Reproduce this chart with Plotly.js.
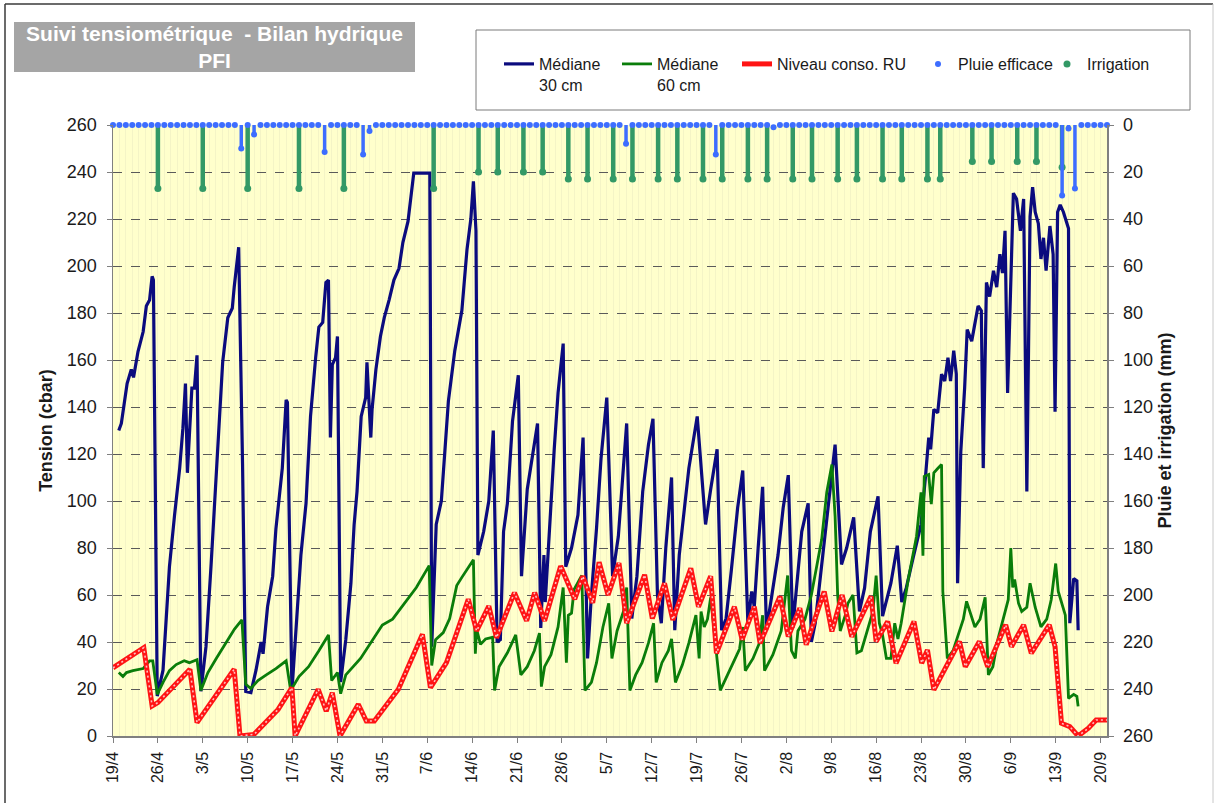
<!DOCTYPE html>
<html><head><meta charset="utf-8">
<script src="https://cdn.plot.ly/plotly-3.0.1.min.js"></script>
<style>html,body{margin:0;padding:0;background:#fff;}#chart{width:1224px;height:803px;}</style>
</head><body><div id="chart"></div>
<script>
// ---- Data (x = days since 19/4) ----
const xTickDays = [0,7,14,21,28,35,42,49,56,63,70,77,84,91,98,105,112,119,126,133,140,147,154];
const xTickLabels = ['19/4','26/4','3/5','10/5','17/5','24/5','31/5','7/6','14/6','21/6','28/6','5/7','12/7','19/7','26/7','2/8','9/8','16/8','23/8','30/8','6/9','13/9','20/9'];

const tension30Days = [0.9,1.3,2.2,2.85,3.2,3.9,4.7,5.2,5.7,6.1,6.3,6.9,7.8,8.8,9.6,10.4,10.9,11.3,11.6,12.0,
12.3,12.7,13.1,13.7,14.5,15.3,16.1,16.6,17.1,17.9,18.6,18.9,19.6,20.2,20.7,21.5,22.3,23.1,23.4,24.1,
24.9,25.4,25.9,26.4,27.0,27.2,27.9,28.5,29.3,30.1,30.8,31.6,32.1,32.7,33.2,33.6,33.9,34.2,34.7,35.0,
35.5,36.3,37.1,37.6,38.05,38.7,39.4,39.6,40.2,40.4,41.0,41.7,42.3,43.05,43.8,44.6,45.2,46.0,46.5,46.9,
49.4,49.7,50.4,51.2,52.3,53.3,54.4,55.2,55.8,56.2,56.6,56.9,57.8,58.6,59.3,59.9,60.4,60.9,61.5,62.3,
63.2,63.7,64.6,65.4,66.2,66.7,67.2,67.4,68.05,68.8,69.4,70.2,70.6,71.5,72.5,73.3,74.0,74.6,75.4,76.1,
77.0,77.9,78.8,79.6,80.1,80.9,81.7,82.6,83.5,84.2,84.9,85.5,86.2,87.1,87.6,88.3,89.0,89.8,91.1,92.4,
93.2,94.2,94.9,95.6,96.4,97.4,98.2,99.0,99.6,100.0,100.6,101.3,101.9,102.7,103.7,104.5,105.3,106.0,106.6,107.4,
108.4,108.9,109.5,110.5,111.8,112.6,113.6,114.4,115.5,116.4,117.2,118.1,119.3,120.0,121.3,122.3,123.0,123.7,124.7,126.0,
126.7,127.2,127.5,128.0,128.6,129.2,129.7,130.2,130.6,131.1,131.5,131.7,132.2,132.8,133.2,133.9,134.3,134.9,135.4,135.7,
136.2,136.7,137.3,137.8,138.3,138.7,139.1,139.5,140.4,140.9,141.5,142.0,142.5,143.0,143.4,143.8,144.3,144.7,145.1,145.5,
146.1,146.6,146.9,147.3,147.7,148.2,149.0,149.2,149.8,150.3,150.5];
const tension30 = [130,133,150,156,152.6,163.6,172,183,185.5,195.6,194,17,28,72,94,114,131,150,112,136,
148,148,162,19,38,73,110,134,159,178,182,191,208,116,19,18.5,28,40,35,55,
68,88,102,114,143,142,19,43,77,99,136,161,174,176,193,194,127,158,161,170,
23,41,65,90,104,136,144,159,127,139,156,170,178,185.5,194,199,210,219,230,239.5,
239.5,38,90,100,142.5,164,181,207,220,236,215,77,87,100,130,40,41,87,99,134,
153.5,68,105,119,133,46,77,57,90,122,146,167,72,80,94,127,33,60,88.5,118,
144,68,85,115.5,133,50,68,104,124,135,60,48,80,110,45,77,94,114,136,90,
105,122,45,50,70,97,113,48,61.5,55,80,106,45,60,77,97,111,46,63,87,
99,40,48,73,104,124,73,80,93,53,63,87,102,51,65,81,57,63,75,90,
110.5,127,122,139,137.5,154,151,161,151,164,154,65,121,148,173,168,174,183,181,114,
193,187,198,191,205,197,215,146,231,228.5,215,228.5,104,221,233.6,223,218,203,212,198,
217,205,138,223,226,223,216,48,67,66,45];

const tension60Days = [0.9,1.55,2.1,3.1,4.7,5.7,6.2,6.9,7.8,8.8,9.85,11.1,11.9,13.1,13.7,14.8,16.1,17.6,18.95,20.1,
20.7,21.5,22.6,23.9,25.4,27.0,27.7,29.0,30.5,32.1,33.6,34.1,35.0,35.5,36.3,38.6,40.2,42.0,43.6,45.2,
47.3,49.3,49.7,50.3,51.5,52.5,53.6,54.4,55.4,56.2,56.5,56.7,57.3,58.1,59.2,59.5,60.2,61.5,62.8,63.6,
64.6,65.7,66.5,66.8,67.3,68.3,69.4,70.2,70.7,71.0,71.5,71.9,73.1,73.6,74.6,75.4,76.4,77.3,77.8,78.6,
79.6,80.1,80.6,81.5,82.5,83.5,84.3,84.7,85.6,86.6,87.1,87.7,88.8,89.8,90.9,91.4,91.7,92.2,92.7,93.2,
94.7,95.6,96.6,97.7,98.2,98.6,99.8,100.8,101.3,101.6,102.9,104.2,105.2,105.8,106.4,106.8,107.9,108.4,108.9,110.5,
111.3,112.1,112.6,113.0,113.4,114.2,114.6,115.4,116.0,116.7,117.4,118.5,119.0,119.5,120.0,120.6,121.3,121.9,122.4,122.9,
124.0,125.3,126.0,126.3,126.5,127.2,127.6,128.0,128.6,129.2,129.4,130.1,131.0,131.8,132.6,133.1,133.6,134.4,135.2,136.0,
136.5,137.2,138.0,139.1,139.6,140.0,140.3,140.6,141.2,141.7,142.5,143.0,143.8,144.7,145.6,146.3,147.0,147.4,147.9,148.5,
149.0,149.8,150.3,150.5];
const tension60 = [27,25.3,27,27.8,28.7,32,32,17.7,22.8,27.8,30.4,32,31.2,32.5,19.4,27,33,39.6,45.5,49.4,
22,20.2,23.6,26,28.7,32,19.4,25.3,29.5,36.3,43,23.6,27,18,26,33,39.6,47.2,49.7,55.6,
63.2,72.5,30,41,44,50,64,67.5,71.7,75,35,45.5,39,41.3,42,19.4,29.5,35.4,43,26,
29.5,36.3,43.8,21,29.5,34.6,46.4,63.2,31.2,51.4,52.3,62.4,68.3,19.4,22.8,31.2,46.4,56.5,33,44.7,
53,63.2,19.4,26,31.2,39.6,48,22.8,31.2,36.3,41.3,22.8,30.4,39.6,51.4,33,53,46.4,49.7,59,
19.4,24.5,30.4,37,46.4,27.8,33,39.6,51.4,27.8,34.6,44.7,68.3,36.3,33,44.7,49.7,54.8,60,83.5,
103.7,115.5,93.6,60,44.7,51.4,56.5,60,35.4,36.3,43,53,68.3,48,43,33,33,48,41.3,48,
66.6,85,103.7,76.7,110.5,111.3,98.7,112,113.8,115.5,61.5,33,36.3,43,49.7,57.3,53,46.4,49.7,59,
26,29.5,41.3,53,58,80,63.2,66.6,56.5,53,54.8,65,54.8,46.4,49.7,58,73.4,61.5,57.3,51.4,
16,17.7,16.9,12.6];

const ruDays = [0,4.8,6.1,7,12,13.1,18.9,19.8,22,25.75,27.9,28.4,32,33.25,34.2,35.4,38.25,39.5,40.75,44.5,
48.25,49.5,52,55.4,56.7,58.6,59.8,62.6,64.5,65.75,67.3,69.8,72,73.25,74.8,75.8,77.2,78.9,80.1,82.9,
84.1,86,87.3,90.1,91.3,93.2,94.1,96.9,98.1,100,100.9,104,105.3,107.1,108.1,110.9,112.1,113.7,115.2,118.2,
119,120.8,122.1,124.9,126.1,127,128,132,132.9,135.1,136.4,139.2,140.1,142,143.2,146,146.9,147.9,149.2,150.5,
152.1,153.3,155];
const ruLevel = [29,37.6,12.8,14.2,28.4,5.7,28.4,0,0.7,11.3,20.6,0,19.9,10.6,18.4,0,13.5,6.4,6.4,19.9,
43.3,20.6,31.2,58.2,44.7,55.3,41.8,61,49,61,49,72.3,58.2,68,56.7,74,60,73.6,48,68.6,
50,65,49.4,71.4,55,68,35.2,55,41,55,39.5,59.4,42.3,54.4,38.8,61.5,44.5,60,42.3,59.4,
40.2,48.7,31,48.7,31,36.6,19.6,40.2,29.5,40.2,29.5,47.3,38,47.3,35.2,47.3,38,5.4,4,0,
3.3,6.8,6.8];

// daily effective rain (mm), day 0 = 19/4
const rainMm = [
0,0,0,0,0,0,0,0,0,0,
0,0,0,0,0,0,0,0,0,0,
10,0,4,0,0,0,0,0,0,0,
0,0,0,11.5,0,0,0,0,0,12.5,
2.5,0,0,0,0,0,0,0,0,0,
0,0,0,0,0,0,0,0,0,0,
0,0,0,0,0,0,0,0,0,0,
0,0,0,0,0,0,0,0,0,0,
8,0,0,0,0,0,0,0,0,0,
0,0,0,0,12.5,0,0,0,0,0,
0,0,0,1,0,0,0,0,0,0,
0,0,0,0,0,0,0,0,0,0,
0,0,0,0,0,0,0,0,0,0,
0,0,0,0,0,0,0,0,0,0,
0,0,0,0,0,0,0,0,30,1.5,
27,0,0,0,0,0];

const irrigDays = [7,14,21,29,36,50,57,60,64,67,71,74,78,81,85,88,92,95,99,102,106,109,113,116,120,123,127,129,134,137,141,144,148];
const irrigMm = [27,27,27,27,27,27,20,20,20,20,23,23,23,23,23,23,23,23,23,23,23,23,23,23,23,23,23,23,15.5,15.5,15.5,15.5,18];

// ---- Layout helpers ----
const FONT = 'Liberation Sans, Arial, sans-serif';
const L = 113, R = 1107, T = 125, B = 736;
function px(x){return (x-L)/(R-L);}
function py(y){return (B-y)/(B-T);}
const textCol = '#1a1a1a';

const traces = [
  {type:'scatter', mode:'lines', name:'Médiane<br>30 cm', x:tension30Days, y:tension30,
   line:{color:'#0b0b7e', width:3.2}, legend:'legend', hoverinfo:'skip'},
  {type:'scatter', mode:'lines', name:'Médiane<br>60 cm', x:tension60Days, y:tension60,
   line:{color:'#0a7d0a', width:2.8}, legend:'legend2', hoverinfo:'skip'},
  {type:'scatter', mode:'lines', name:'Niveau conso. RU', x:ruDays, y:ruLevel,
   line:{color:'#ff1414', width:5}, legend:'legend3', hoverinfo:'skip'},
  {type:'scatter', mode:'lines', name:'Niveau conso. RU', x:ruDays, y:ruLevel, showlegend:false,
   line:{color:'rgba(255,200,200,0.95)', width:1.6, dash:'2px,3px'}, hoverinfo:'skip'},
  {type:'scatter', mode:'markers', name:'Irrigation', x:irrigDays, y:irrigMm, yaxis:'y2',
   marker:{color:'#339966', size:7}, cliponaxis:false, legend:'legend5', hoverinfo:'skip',
   error_y:{type:'data', symmetric:false, array:irrigMm.map(()=>0), arrayminus:irrigMm,
            color:'#339966', thickness:4.5, width:0}},
  {type:'scatter', mode:'markers', name:'Pluie efficace', x0:0, dx:1, y:rainMm, yaxis:'y2',
   marker:{color:'#3d6dff', size:6}, cliponaxis:false, legend:'legend4', hoverinfo:'skip',
   error_y:{type:'data', symmetric:false, array:rainMm.map(()=>0), arrayminus:rainMm,
            color:'#3d6dff', thickness:3.5, width:0}}
];

function legendAt(textX){
  return {x:px(textX-40), y:py(47), xanchor:'left', yanchor:'top', orientation:'h',
          bgcolor:'rgba(0,0,0,0)', borderwidth:0, valign:'top',
          font:{family:FONT, size:16, color:textCol}};
}

const axisLine = '#808080';
const layout = {
  width:1224, height:803,
  margin:{l:L, r:1224-R, t:T, b:803-B},
  paper_bgcolor:'#ffffff', plot_bgcolor:'#ffffcc',
  font:{family:FONT, color:textCol},
  showlegend:true,
  legend:legendAt(539), legend2:legendAt(657), legend3:legendAt(777),
  legend4:legendAt(958), legend5:legendAt(1087),
  xaxis:{range:[0,155], tickmode:'array', tickvals:xTickDays, ticktext:xTickLabels, tickangle:-90,
         showgrid:false, zeroline:false, showline:true, linecolor:axisLine, linewidth:1.5,
         ticks:'outside', ticklen:5, tickcolor:axisLine, ticklabelstandoff:3,
         tickfont:{family:FONT, size:16, color:textCol},
         minor:{tickmode:'linear', tick0:0, dtick:1, showgrid:true, gridcolor:'#f4f4c6', gridwidth:1},
         fixedrange:true},
  yaxis:{range:[0,260], tick0:0, dtick:20, showgrid:true, gridcolor:'#5a5a5a', griddash:'dash', gridwidth:1,
         zeroline:false, showline:true, linecolor:axisLine, linewidth:1.5,
         ticks:'outside', ticklen:5, tickcolor:axisLine, ticklabelstandoff:6,
         tickfont:{family:FONT, size:18, color:textCol},
         title:{text:'<b>Tension (cbar)</b>', font:{family:FONT, size:18, color:textCol}, standoff:9},
         fixedrange:true},
  yaxis2:{overlaying:'y', side:'right', range:[260,0], tick0:0, dtick:20, showgrid:false, zeroline:false,
         showline:true, linecolor:axisLine, linewidth:1.5,
         ticks:'outside', ticklen:5, tickcolor:axisLine, ticklabelstandoff:6,
         tickfont:{family:FONT, size:18, color:textCol},
         title:{text:'<b>Pluie et irrigation (mm)</b>', font:{family:FONT, size:18, color:textCol}, standoff:6},
         fixedrange:true},
  shapes:[
    {type:'rect', xref:'paper', yref:'paper', x0:px(476), x1:px(1190), y0:py(110), y1:py(30),
     line:{color:'#7a7a7a', width:1}, fillcolor:'#ffffff', layer:'below'},
    {type:'line', xref:'paper', yref:'paper', x0:px(5), x1:px(1213), y0:py(4), y1:py(4),
     line:{color:'#3a3a3a', width:1.5}},
    {type:'line', xref:'paper', yref:'paper', x0:px(5), x1:px(5), y0:py(4), y1:py(803),
     line:{color:'#3a3a3a', width:1.5}},
    {type:'line', xref:'paper', yref:'paper', x0:px(1213), x1:px(1213), y0:py(4), y1:py(803),
     line:{color:'#c8c8c8', width:1}}
  ],
  annotations:[
    {xref:'paper', yref:'paper', x:px(14), y:py(22), xanchor:'left', yanchor:'top', showarrow:false,
     width:401, height:50, bgcolor:'#a5a5a5', borderpad:0, borderwidth:0, align:'center', valign:'middle',
     text:'<b>Suivi tensiométrique\u00a0\u00a0- Bilan hydrique<br>PFI</b>',
     font:{family:FONT, size:21, color:'#ffffff'}}
  ]
};

Plotly.newPlot('chart', traces, layout, {displayModeBar:false, staticPlot:true});
</script>
</body></html>
